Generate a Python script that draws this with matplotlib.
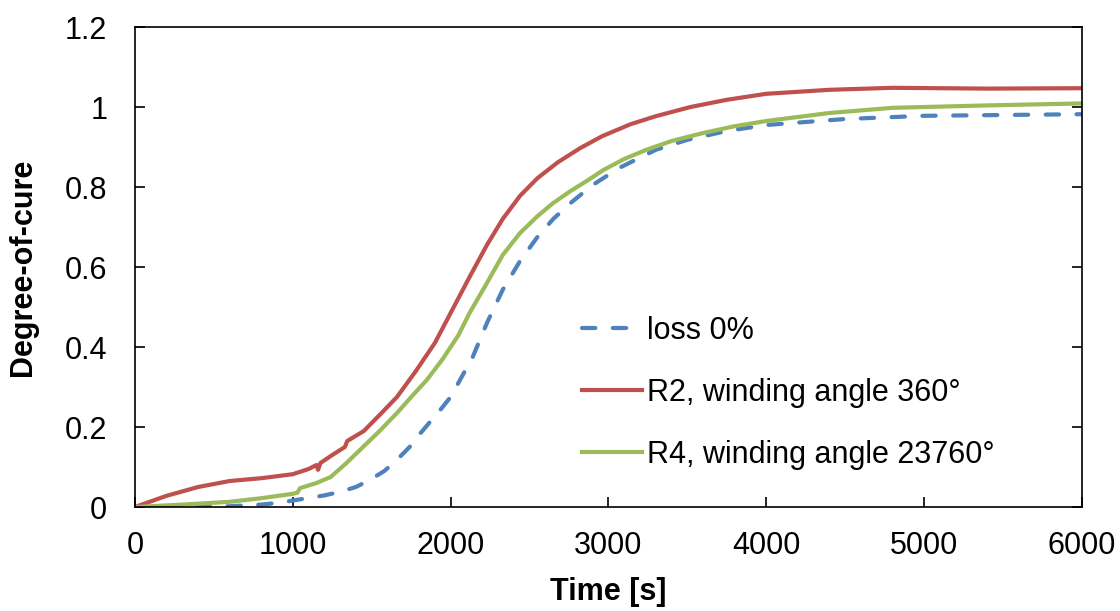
import matplotlib
matplotlib.use('Agg')
import matplotlib.pyplot as plt

plt.rcParams['font.family'] = ['Liberation Sans', 'DejaVu Sans']

# loss 0%
t_loss = [0, 300, 600, 800, 920, 1090, 1200, 1300, 1400, 1490, 1580, 1660, 1740, 1810, 1870, 1935,
          2000, 2060, 2140, 2230, 2330, 2440, 2550, 2650, 2760, 2900, 3070, 3300, 3500, 3750, 4000,
          4500, 5000, 5500, 6000]
y_loss = [0, 0.0, 0.002, 0.006, 0.011, 0.022, 0.029, 0.038, 0.05, 0.068, 0.09, 0.118, 0.15, 0.185,
          0.213, 0.243, 0.275, 0.318, 0.375, 0.46, 0.543, 0.615, 0.675, 0.72, 0.76, 0.805, 0.848,
          0.893, 0.918, 0.94, 0.955, 0.97, 0.978, 0.98, 0.982]

# R2, 360 deg
t_r2 = [0, 200, 400, 600, 800, 1000, 1100, 1150, 1160, 1175, 1250, 1330, 1345, 1450, 1550, 1660,
        1780, 1900, 2000, 2120, 2230, 2330, 2440, 2550, 2680, 2820, 2960, 3140, 3300, 3520, 3750,
        4000, 4400, 4800, 5400, 6000]
y_r2 = [0, 0.028, 0.05, 0.065, 0.072, 0.082, 0.095, 0.105, 0.093, 0.11, 0.13, 0.15, 0.165, 0.19,
        0.23, 0.275, 0.34, 0.41, 0.485, 0.575, 0.655, 0.72, 0.778, 0.822, 0.862, 0.897, 0.927, 0.957,
        0.977, 1.0, 1.018, 1.033, 1.043, 1.048, 1.046, 1.047]

# R4, 23760 deg
t_r4 = [0, 300, 600, 800, 1000, 1030, 1045, 1150, 1240, 1340, 1445, 1550, 1660, 1750, 1850, 1950,
        2050, 2120, 2230, 2330, 2440, 2550, 2650, 2760, 2870, 2970, 3100, 3240, 3400, 3600, 3800,
        4000, 4400, 4800, 5400, 6000]
y_r4 = [0, 0.006, 0.013, 0.022, 0.033, 0.036, 0.047, 0.06, 0.075, 0.11, 0.15, 0.19, 0.235, 0.275,
        0.318, 0.37, 0.43, 0.485, 0.56, 0.63, 0.685, 0.727, 0.76, 0.79, 0.817, 0.843, 0.87,
        0.893, 0.915, 0.935, 0.952, 0.965, 0.985, 0.998, 1.004, 1.009]

labels = ['loss 0%', 'R2, winding angle 360°', 'R4, winding angle 23760°']

fig = plt.figure(figsize=(11.2, 6.11), dpi=100)
ax = fig.add_axes([0.1205, 0.1702, 0.8455, 0.7856])

ax.plot(t_loss, y_loss, color='#4F81BD', lw=3, dashes=(3.2, 4.2), dash_capstyle='round', label=labels[0])
ax.plot(t_r2, y_r2, color='#C0504D', lw=3, label=labels[1])
ax.plot(t_r4, y_r4, color='#9BBB59', lw=3, label=labels[2])

ax.set_xlim(0, 6000)
ax.set_ylim(0, 1.2)
ax.set_xticks(range(0, 6001, 1000))
ax.set_yticks([0, 0.2, 0.4, 0.6, 0.8, 1.0, 1.2])
ax.set_yticklabels(['0', '0.2', '0.4', '0.6', '0.8', '1', '1.2'])
ax.tick_params(direction='in', length=7, width=1.2, labelsize=22)
ax.tick_params(axis='x', pad=17)
ax.tick_params(axis='y', right=True, pad=20)
for s in ax.spines.values():
    s.set_linewidth(1.2)

ax.set_xlabel('Time [s]', fontsize=22, fontweight='bold', labelpad=12)
ax.set_ylabel('Degree-of-cure', fontsize=22, fontweight='bold', labelpad=19)

ax.legend(loc='upper left', bbox_to_anchor=(0.472, 0.398), frameon=False, fontsize=22,
          handlelength=1.96, handletextpad=0.17, labelspacing=1.05, borderpad=0, borderaxespad=0)

fig.savefig('out.png', dpi=100)
